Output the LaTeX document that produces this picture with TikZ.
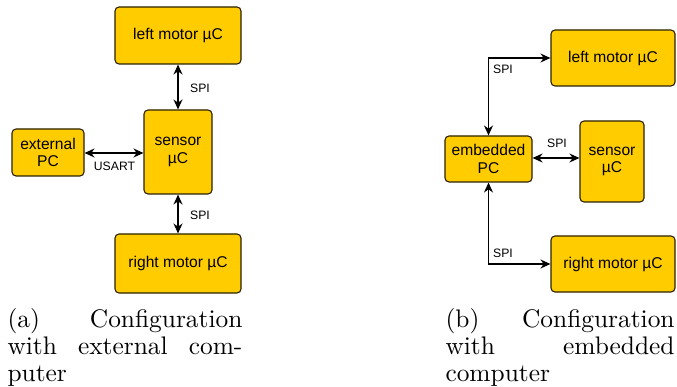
\documentclass[tikz,border=0pt]{standalone}
\usepackage{fontspec}
\newfontfamily\boxfont{Liberation Sans}
\usetikzlibrary{arrows.meta}
\definecolor{boxyellow}{HTML}{FFCC00}
\definecolor{boxborder}{HTML}{2B2100}
\tikzset{
  unitbox/.style={draw=boxborder, fill=boxyellow, line width=1.1pt, rounded corners=4pt,
    align=center, inner sep=2pt, font=\boxfont\fontsize{15.6}{17.6}\selectfont},
  link/.style={line width=1.2pt, {Stealth[length=10pt,width=9pt]}-{Stealth[length=10pt,width=9pt]}},
  lbl/.style={font=\boxfont\fontsize{12.2}{14}\selectfont, inner sep=0pt},
  capt/.style={font=\fontsize{10}{10.63}\selectfont, inner sep=0pt, anchor=base west, scale=2.54}
}
\begin{document}
\begin{tikzpicture}[x=1pt,y=-1pt]
\useasboundingbox (0,0) rectangle (677,387);
% left configuration
\node[unitbox, minimum width=126pt, minimum height=57pt] (lm1) at (178,35.5) {left motor µC};
\node[unitbox, minimum width=68pt, minimum height=84pt] (sens1) at (178,152) {sensor\\µC};
\node[unitbox, minimum width=72pt, minimum height=47pt] (ext) at (48,152.5) {external\\PC};
\node[unitbox, minimum width=126pt, minimum height=59pt] (rm1) at (178,263.5) {right motor µC};
\draw[link] (lm1.south) -- (sens1.north);
\draw[link] (sens1.south) -- (rm1.north);
\draw[link] (ext.east |- 0,153) -- (sens1.west |- 0,153);
\node[lbl] (spi1) at (200,88) {SPI};
\node[lbl] (spi2) at (200,215) {SPI};
\node[lbl] (usart) at (114.5,166) {USART};
% right configuration
\node[unitbox, minimum width=124pt, minimum height=56pt] (lm2) at (613,58) {left motor µC};
\node[unitbox, minimum width=87pt, minimum height=46pt] (epc) at (488.5,159) {embedded\\PC};
\node[unitbox, minimum width=64pt, minimum height=81pt] (sens2) at (612,161.5) {sensor\\µC};
\node[unitbox, minimum width=124pt, minimum height=56pt] (rm2) at (613,264) {right motor µC};
\draw[link] (epc.north) |- (lm2.west);
\draw[link] (epc.east |- 0,158) -- (sens2.west |- 0,158);
\draw[link] (epc.south) |- (rm2.west);
\node[lbl] (spi3) at (503,69.5) {SPI};
\node[lbl] (spi4) at (557,143) {SPI};
\node[lbl] (spi5) at (503,253) {SPI};
% captions
\node[capt] (capa) at (7,327) {\parbox[t]{92.5pt}{\hbox to 92.5pt{(a)\hfill Configuration}\hbox to 92.5pt{with\hfill external\hfill com-}\hbox{puter}}};
\node[capt] (capb) at (445,327) {\parbox[t]{90.2pt}{\hbox to 90.2pt{(b)\hfill Configuration}\hbox to 90.2pt{with\hfill embedded}\hbox{computer}}};
\end{tikzpicture}
\end{document}
